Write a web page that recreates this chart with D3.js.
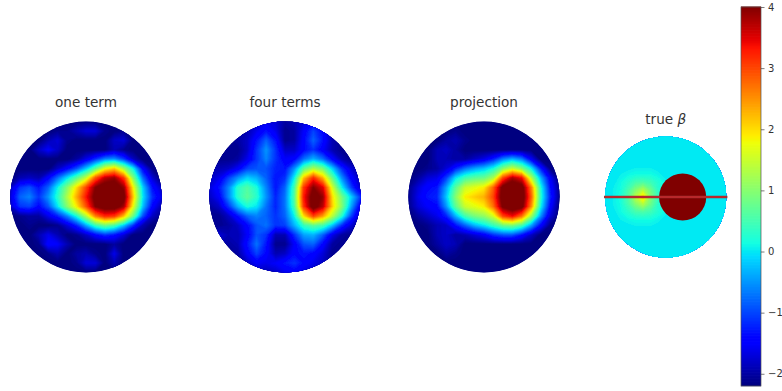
<!DOCTYPE html>
<html>
<head>
<meta charset="utf-8">
<script src="https://cdn.jsdelivr.net/npm/d3@7"></script>
<style>
body { margin: 0; background: #fff; }
text { font-family: "DejaVu Sans", sans-serif; fill: #333; }
</style>
</head>
<body>
<div id="chart"></div>
<script>
// values, rows top to bottom, columns left to right
var oneTerm = [
[-2.2,-2.2,-2.2,-2.2,-2.2,-2.2,-2.2,-2.2,-2.2,-2.2,-2.2,-2.2,-2.2,-2.2,-2.2,-2.2,-2.2],
[-2.2,-2.2,-2.2,-2.2,-2.2,-2.1,-2.1,-1.9,-1.7,-1.7,-2.1,-2.2,-2.1,-2.2,-2.2,-2.2,-2.2],
[-2.2,-2.2,-2.2,-2.2,-1.9,-1.7,-2.1,-2.2,-2.2,-2.2,-2.2,-1.8,-1.7,-2.2,-2.2,-2.2,-2.2],
[-2.2,-2.2,-2.2,-1.8,-1.5,-1.8,-2.2,-2.2,-2.2,-2.2,-2.2,-1.9,-2.1,-2.2,-2.2,-2.2,-2.2],
[-2.2,-2.2,-2.2,-2.2,-2.2,-2.2,-2.2,-2,-1.6,-1.1,-.6,-.5,-1,-1.8,-2.2,-2.2,-2.2],
[-2.2,-2.2,-2.2,-2.2,-2.2,-1.8,-1.4,-.9,-.2,.7,1.7,2.1,1.2,.1,-1.4,-2.1,-2.2],
[-2.2,-1.9,-1.8,-1.9,-1.4,-.7,0,.7,1.5,2.9,3.7,3.9,3.1,1,-.7,-1.7,-2.2],
[-1.8,-1.1,-.9,-1.3,-.8,.1,1,2,3,4,4.3,4.3,3.9,1.8,-.1,-1.3,-1.8],
[-1.7,-.8,-.6,-1.1,-.5,.3,1.3,2.3,3.3,4.2,4.4,4.4,4.2,2.1,0,-1.1,-1.6],
[-1.8,-1.1,-1,-1.4,-.9,0,1,1.9,2.9,4,4.3,4.3,3.8,1.7,-.2,-1.4,-1.9],
[-2.2,-2.1,-2,-2,-1.6,-1.2,-.6,.2,1.3,2.6,3.2,3.1,2.2,.8,-.9,-1.8,-2.1],
[-2.2,-2.2,-2.1,-2.2,-2.2,-2.1,-1.7,-1.2,-.4,.4,.8,.5,-.2,-1.1,-1.9,-2.2,-2.2],
[-2.2,-2.2,-2.2,-1.9,-1.6,-1.9,-2.2,-2.1,-1.8,-1.4,-1.1,-1.3,-1.7,-2.2,-2.2,-2.2,-2.2],
[-2.2,-2.2,-2.2,-2.1,-1.4,-1.5,-1.9,-2.2,-2.2,-2.2,-2.2,-2,-2.2,-2.2,-2.2,-2.2,-2.2],
[-2.2,-2.2,-2.2,-2.2,-2.1,-1.9,-2.2,-2,-1.9,-2.1,-2.2,-1.6,-2.2,-2.2,-2.2,-2.2,-2.2],
[-2.2,-2.2,-2.2,-2.2,-2.2,-2.2,-2.2,-2.1,-1.7,-1.7,-2.2,-1.9,-2.2,-2.2,-2.2,-2.2,-2.2],
[-2.2,-2.2,-2.2,-2.2,-2.2,-2.2,-2.2,-2.2,-2.2,-2.2,-2.2,-2.2,-2.2,-2.2,-2.2,-2.2,-2.2]
];

var fourTerms = [
[-2.1,-2.1,-2.1,-2.1,-2,-1.8,-1.6,-1.7,-2,-1.9,-1.7,-1.5,-1.7,-2,-2.1,-2.1,-2.1],
[-2.1,-2.1,-2.1,-2,-1.9,-1.6,-1.3,-1.6,-2.1,-2,-1.5,-1,-1.4,-2,-2.1,-2.1,-2.1],
[-2.1,-2.1,-2.1,-2,-1.8,-1.3,-.8,-1.3,-2.1,-2,-1.4,-.8,-1.3,-1.9,-2.1,-2.1,-2.1],
[-2.1,-2.1,-2.1,-2.1,-1.8,-1.1,-.5,-1.1,-1.8,-1.8,-1.4,-1.1,-1.5,-1.9,-2.1,-2.1,-2.1],
[-2,-2.1,-2.1,-2,-1.6,-1.1,-.6,-1.1,-1.5,-1.4,-.7,-.3,-.7,-1.4,-1.9,-2.1,-2.1],
[-1.9,-1.9,-1.8,-1.5,-1,-.9,-.9,-1.2,-1.3,-.5,.7,1.3,.9,-.1,-1.1,-1.7,-2],
[-1.8,-1.6,-1,-.5,-.1,-.3,-.8,-1.3,-1.1,.1,2.2,3.2,2.3,.8,-.5,-1.4,-1.9],
[-1.7,-1.3,-.6,.3,.6,.2,-.6,-1.3,-.8,.5,3.1,4,3.5,1.6,.1,-1,-1.8],
[-1.8,-1.5,-.6,.3,.7,.3,-.5,-1.2,-.7,.6,3.3,4.3,3.9,2,.9,-.1,-1.1],
[-2,-1.8,-1.1,-.3,.2,0,-.7,-1.2,-.7,.5,3.1,4.3,3.7,2.1,1,-.4,-1.6],
[-2.1,-2.1,-1.8,-1.3,-.8,-.6,-.8,-1.1,-.8,.1,2,3,2.4,1.4,.3,-1,-1.9],
[-2.1,-2.1,-2,-1.8,-1.4,-.9,-.7,-1.1,-1,-.3,.4,.7,.5,-.2,-1.1,-1.7,-2.1],
[-1.9,-1.7,-1.9,-1.9,-1.5,-.9,-1.1,-1.9,-1.9,-1.1,-.4,-.3,-.8,-1.6,-2,-2.1,-2.1],
[-2,-1.9,-2,-1.9,-1.3,-.7,-1.3,-2.1,-2.1,-1.5,-.9,-.8,-1.4,-2,-2.1,-2.1,-2.1],
[-2.1,-2.1,-2.1,-2,-1.5,-1,-1.4,-1.9,-1.8,-1.4,-1.3,-1.4,-1.7,-2.1,-2.1,-2.1,-2.1],
[-2.1,-2.1,-2.1,-2.1,-1.8,-1.5,-1.6,-1.5,-1.3,-1.1,-1.4,-1.6,-1.8,-2.1,-2.1,-2.1,-2.1],
[-2.1,-2.1,-2.1,-2.1,-2.1,-1.9,-1.9,-1.8,-1.6,-1.5,-1.7,-1.9,-2,-2.1,-2.1,-2.1,-2.1]
];

var projection = [
[-2.2,-2.2,-2.2,-2.2,-2.2,-2.2,-2.2,-2.2,-2.2,-2.2,-2.2,-2.2,-2.2,-2.2,-2.2,-2.2,-2.2],
[-2.2,-2.2,-2.2,-2.2,-2.2,-2.1,-2.2,-2.2,-2.2,-2.2,-2.2,-2.2,-2.2,-2.2,-2.2,-2.2,-2.2],
[-2.2,-2.2,-2.2,-2.2,-2,-1.9,-2.1,-2.2,-2.2,-2.2,-2.2,-2.2,-2.2,-2.2,-2.2,-2.2,-2.2],
[-2.2,-2.2,-2.2,-1.9,-1.8,-2,-2.2,-2.2,-2.2,-2.2,-2.2,-2.2,-2.2,-2.2,-2.2,-2.2,-2.2],
[-2.2,-2.2,-2.2,-1.9,-1.9,-2,-2,-1.8,-1.6,-1.2,-.6,-.3,-.6,-1.5,-2.2,-2.2,-2.2],
[-2.2,-2.2,-2.1,-2,-1.7,-1.2,-.7,-.4,-.2,.2,1,1.5,1,.1,-1.2,-2.1,-2.2],
[-2.2,-2,-1.7,-1.6,-1,0,.5,.7,.8,1.3,3,3.8,3.4,1.4,-.3,-1.5,-2.2],
[-2.1,-1.7,-1.4,-1.3,-.4,.7,1.5,1.7,1.9,2.8,4.2,4.4,4.3,2.6,.2,-1.3,-2.1],
[-2.1,-1.6,-1.3,-1.2,-.2,1,1.9,2.1,2.3,3,4.3,4.5,4.4,2.8,.3,-1.2,-2.1],
[-2.1,-1.7,-1.5,-1.4,-.5,.7,1.5,1.7,1.9,2.7,4.1,4.4,4.2,2.5,.1,-1.4,-2.2],
[-2.2,-2,-1.8,-1.6,-1.2,-.3,.5,.9,1.1,1.6,3,3.4,2.7,1.2,-.5,-1.7,-2.2],
[-2.2,-2.2,-2.1,-1.9,-1.8,-1.3,-.8,-.3,0,.4,.8,.9,.5,-.4,-1.4,-2.1,-2.2],
[-2.2,-2.2,-2.2,-1.9,-1.8,-2,-1.9,-1.7,-1.5,-1.1,-.9,-.9,-1.3,-1.8,-2.2,-2.2,-2.2],
[-2.2,-2.2,-2.2,-2,-1.8,-1.9,-2.2,-2.2,-2.2,-2.2,-2.2,-2.2,-2.2,-2.2,-2.2,-2.2,-2.2],
[-2.2,-2.2,-2.2,-2.2,-2,-2.1,-2.2,-2.2,-2.2,-2.2,-2.2,-2.2,-2.2,-2.2,-2.2,-2.2,-2.2],
[-2.2,-2.2,-2.2,-2.2,-2.2,-2.2,-2.2,-2.2,-2.2,-2.2,-2.2,-2.2,-2.2,-2.2,-2.2,-2.2,-2.2],
[-2.2,-2.2,-2.2,-2.2,-2.2,-2.2,-2.2,-2.2,-2.2,-2.2,-2.2,-2.2,-2.2,-2.2,-2.2,-2.2,-2.2]
];

var trueBeta = [
[0,0,0,0,0,0,0,0,0,0,0,0,0,0,0,0,0],
[0,0,0,0,0,0,0,0,0,0,0,0,0,0,0,0,0],
[0,0,0,0,0,0,0,0,0,0,0,0,0,0,0,0,0],
[0,0,0,0,0,0,0,0,0,0,0,0,0,0,0,0,0],
[0,0,0,0,.03,.03,.03,0,0,0,0,0,0,0,0,0,0],
[0,0,.05,.1,.15,.15,.15,.08,0,0,0,0,0,0,0,0,0],
[0,0,.12,.3,.5,.55,.45,.25,.08,0,0,0,0,0,0,0,0],
[0,.05,.15,.5,.95,1.3,.8,.3,.1,0,0,0,0,0,0,0,0],
[0,.05,.2,.6,1.4,2.1,1,.4,.1,0,0,0,0,0,0,0,0],
[0,.05,.15,.5,.95,1.3,.8,.3,.1,0,0,0,0,0,0,0,0],
[0,0,.12,.3,.5,.55,.45,.25,.08,0,0,0,0,0,0,0,0],
[0,0,.05,.1,.15,.15,.15,.08,0,0,0,0,0,0,0,0,0],
[0,0,0,0,.03,.03,.03,0,0,0,0,0,0,0,0,0,0],
[0,0,0,0,0,0,0,0,0,0,0,0,0,0,0,0,0],
[0,0,0,0,0,0,0,0,0,0,0,0,0,0,0,0,0],
[0,0,0,0,0,0,0,0,0,0,0,0,0,0,0,0,0],
[0,0,0,0,0,0,0,0,0,0,0,0,0,0,0,0,0]
];
// the hot disc in the true image: centre x, radius, value (unit disc coords)
var discX = [0.28];
var discR = [0.39];
var discValue = [4];

var panelTitles = ["one term", "four terms", "projection"];
var panelGrids = [oneTerm, fourTerms, projection];
var colorTicks = [-2, -1, 0, 1, 2, 3, 4];

// matplotlib jet segments
var jetRed = [[0, 0], [.35, 0], [.66, 1], [.89, 1], [1, .5]];
var jetGreen = [[0, 0], [.125, 0], [.375, 1], [.64, 1], [.91, 0], [1, 0]];
var jetBlue = [[0, .5], [.11, 1], [.34, 1], [.65, 0], [1, 0]];

var svgWidth = 782;
var svgHeight = 391;

var vmin = -2.2, vmax = 4;

function channel(stops) {
  return d3.scaleLinear().domain(stops.map(d => d[0])).range(stops.map(d => d[1])).clamp(true);
}
var redCh = channel(jetRed), greenCh = channel(jetGreen), blueCh = channel(jetBlue);
var norm = d3.scaleLinear().domain([vmin, vmax]).range([0, 1]).clamp(true);
function jet(v) {
  var t = norm(v);
  return d3.rgb(redCh(t) * 255, greenCh(t) * 255, blueCh(t) * 255).formatHex();
}

var svg = d3.select("#chart").append("svg")
  .attr("width", svgWidth)
  .attr("height", svgHeight)
  .style("display", "block");

var defs = svg.append("defs");
defs.append("filter").attr("id", "soft")
  .attr("x", "-5%").attr("y", "-5%").attr("width", "110%").attr("height", "110%")
  .append("feGaussianBlur").attr("stdDeviation", 0.7);

var thresholds = d3.range(vmin, vmax + 0.01, 0.05);

function drawImage(grid, idx, cx, cy, R) {
  var n = grid.length;
  var x = d3.scaleLinear().domain([-1, 1]).range([cx - R, cx + R]);
  var y = d3.scaleLinear().domain([-1, 1]).range([cy - R, cy + R]);
  // contour coords have value centres at i + 0.5
  var cell = d3.scaleLinear().domain([0.5, n - 0.5]).range([-1, 1]);
  var path = d3.geoPath(d3.geoTransform({
    point: function (a, b) { this.stream.point(x(cell(a)), y(cell(b))); }
  }));

  defs.append("clipPath").attr("id", "disk" + idx)
    .append("circle").attr("cx", x(0)).attr("cy", y(0)).attr("r", R);

  var outer = svg.append("g").attr("filter", "url(#soft)");
  var g = outer.append("g").attr("clip-path", `url(#disk${idx})`);

  g.append("circle")
    .attr("cx", x(0)).attr("cy", y(0)).attr("r", R)
    .attr("fill", jet(d3.min(grid.flat())));

  var contours = d3.contours().size([n, n]).thresholds(thresholds)(grid.flat());
  g.selectAll("path.level")
    .data(contours)
    .enter()
    .append("path")
    .attr("class", "level")
    .attr("d", path)
    .attr("fill", d => jet(d.value))
    .attr("stroke", d => jet(d.value))
    .attr("stroke-width", 0.3);

  return { x: x, y: y, g: g, outer: outer };
}

var panelCx = [86, 285, 484];
panelGrids.forEach(function (grid, i) {
  drawImage(grid, i, panelCx[i], 197, 75.5);
  svg.append("text")
    .attr("x", panelCx[i])
    .attr("y", 107)
    .attr("text-anchor", "middle")
    .attr("font-size", 13.6)
    .text(panelTitles[i]);
});

// true beta panel
var tb = drawImage(trueBeta, 3, 665.7, 197, 60.5);
tb.g.selectAll("circle.hot")
  .data(discX)
  .enter()
  .append("circle")
  .attr("class", "hot")
  .attr("cx", d => tb.x(d))
  .attr("cy", tb.y(0))
  .attr("r", tb.x(discR[0]) - tb.x(0))
  .attr("fill", jet(discValue[0]));

// slice line runs a little past the disc on both sides
svg.append("line")
  .attr("x1", tb.x(-1.02)).attr("x2", tb.x(1.02))
  .attr("y1", tb.y(0)).attr("y2", tb.y(0))
  .attr("stroke", "#8f3a3a").attr("stroke-width", 2.4);
svg.append("line")
  .attr("x1", tb.x(-1)).attr("x2", tb.x(1))
  .attr("y1", tb.y(0)).attr("y2", tb.y(0))
  .attr("stroke", "#e0161c").attr("stroke-width", 1);

var trueTitle = svg.append("text")
  .attr("x", 665.7)
  .attr("y", 124)
  .attr("text-anchor", "middle")
  .attr("font-size", 13.6);
trueTitle.append("tspan").text("true ");
trueTitle.append("tspan").attr("font-style", "italic").text("β");

// colorbar
var barX = 741, barW = 20, barTop = 7, barBottom = 386;
var barScale = d3.scaleLinear().domain([vmin, vmax]).range([barBottom, barTop]);
var barLevels = d3.range(vmin, vmax, (vmax - vmin) / 256);
svg.append("g").selectAll("rect")
  .data(barLevels)
  .enter()
  .append("rect")
  .attr("x", barX)
  .attr("width", barW)
  .attr("y", d => barScale(d) - 2)
  .attr("height", 2.2)
  .attr("fill", d => jet(d));
svg.append("rect")
  .attr("x", barX).attr("y", barTop)
  .attr("width", barW).attr("height", barBottom - barTop)
  .attr("fill", "none").attr("stroke", "#555").attr("stroke-width", 0.7);

var barAxis = svg.append("g")
  .attr("transform", `translate(${barX + barW}, 0)`)
  .call(d3.axisRight(barScale).tickValues(colorTicks).tickSize(3.5).tickPadding(3.5).tickFormat(d3.format("d")));
barAxis.select(".domain").remove();
barAxis.selectAll("line").attr("stroke", "#444").attr("stroke-width", 0.7);
barAxis.selectAll("text").attr("font-size", 10).attr("font-family", "DejaVu Sans");
</script>
</body>
</html>
